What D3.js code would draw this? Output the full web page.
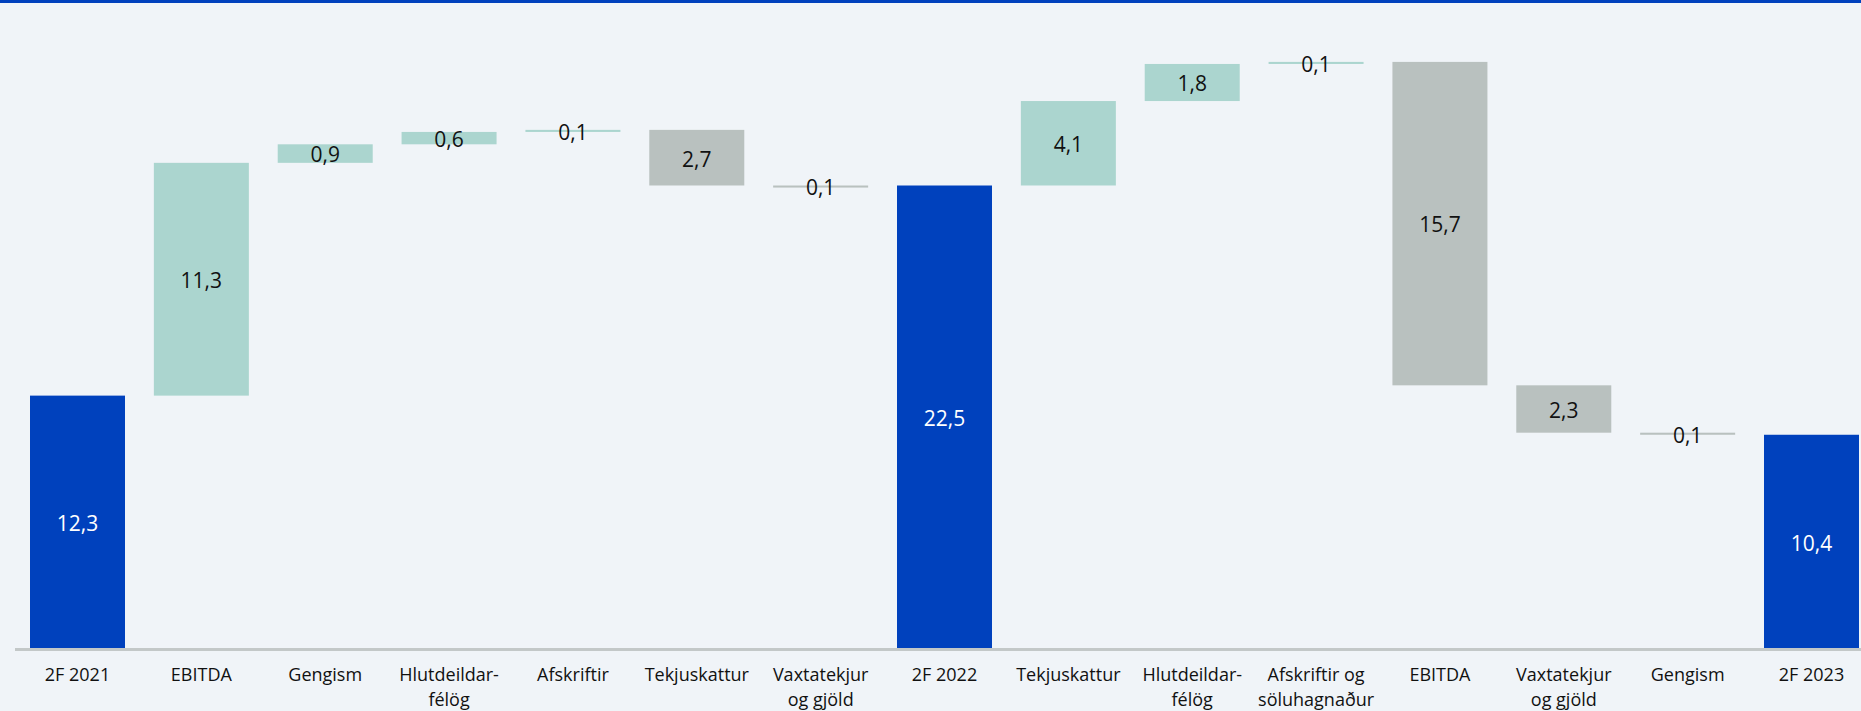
<!DOCTYPE html>
<html>
<head>
<meta charset="utf-8">
<script src="https://cdn.jsdelivr.net/npm/d3@7"></script>
<style>
  html, body { margin: 0; padding: 0; background: #f0f4f8; }
  svg { display: block; }
</style>
</head>
<body>
<svg id="chart" width="1861" height="711"></svg>
<script>
// ---- data ----
const categories = [
  "2F 2021", "EBITDA", "Gengism", "Hlutdeildar-\nfélög", "Afskriftir", "Tekjuskattur",
  "Vaxtatekjur\nog gjöld", "2F 2022", "Tekjuskattur", "Hlutdeildar-\nfélög",
  "Afskriftir og\nsöluhagnaður", "EBITDA", "Vaxtatekjur\nog gjöld", "Gengism", "2F 2023"
];
const values = [12.3, 11.3, 0.9, 0.6, 0.1, -2.7, -0.1, 22.5, 4.1, 1.8, 0.1, -15.7, -2.3, -0.1, 10.4];
const isTotal = [true, false, false, false, false, false, false, true, false, false, false, false, false, false, true];

// ---- layout ----
const W = 1861, H = 711;
const svg = d3.select("#chart");
const colors = { total: "#0041bd", up: "#abd5cf", down: "#b9c1bf" };

// build waterfall rows
let run = 0;
const rows = categories.map((c, i) => {
  const v = values[i];
  let start, end;
  if (isTotal[i]) { start = 0; end = v; run = v; }
  else { start = run; end = run + v; run = end; }
  return { key: i, cat: c, v, start, end, type: isTotal[i] ? "total" : (v >= 0 ? "up" : "down") };
});

const x = d3.scaleBand().domain(rows.map(d => d.key)).range([30, 1859]).paddingInner(0.233).paddingOuter(0);
const y = d3.scaleLinear().domain([0, 30]).range([649, 31]);

// top accent line
svg.append("rect").attr("x", 0).attr("y", 0).attr("width", W).attr("height", 3).attr("fill", "#0041bd");

// bars
svg.append("g").selectAll("rect").data(rows).join("rect")
  .attr("x", d => x(d.key))
  .attr("width", x.bandwidth())
  .attr("y", d => y(Math.max(d.start, d.end)))
  .attr("height", d => Math.abs(y(d.start) - y(d.end)))
  .attr("fill", d => colors[d.type]);

// baseline
svg.append("rect").attr("x", 15).attr("y", 648).attr("width", W - 15).attr("height", 3).attr("fill", "#c3c8c8");

// value labels
const fmt = v => d3.format(".1f")(Math.abs(v)).replace(".", ",");
svg.append("g").selectAll("text").data(rows).join("text")
  .attr("x", d => x(d.key) + x.bandwidth() / 2)
  .attr("y", d => (y(d.start) + y(d.end)) / 2)
  .attr("dy", "0.42em")
  .attr("text-anchor", "middle")
  .attr("font-family", "'Open Sans', sans-serif")
  .attr("font-size", 21)
  .attr("fill", d => d.type === "total" ? "#ffffff" : "#111111")
  .text(d => fmt(d.v));

// x axis
const axis = svg.append("g").attr("transform", "translate(0,663)")
  .call(d3.axisBottom(x).tickSize(0).tickPadding(0).tickFormat(i => categories[i]));
axis.select(".domain").remove();
axis.selectAll("text")
  .attr("font-family", "'Open Sans', sans-serif")
  .attr("font-size", 18)
  .attr("fill", "#111111")
  .attr("dy", null)
  .attr("y", 18)
  .each(function(i) {
    const t = d3.select(this);
    const lines = categories[i].split("\n");
    t.text(null);
    lines.forEach((ln, k) => {
      t.append("tspan").attr("x", 0).attr("dy", k === 0 ? 0 : 25).text(ln);
    });
  });
</script>
</body>
</html>
